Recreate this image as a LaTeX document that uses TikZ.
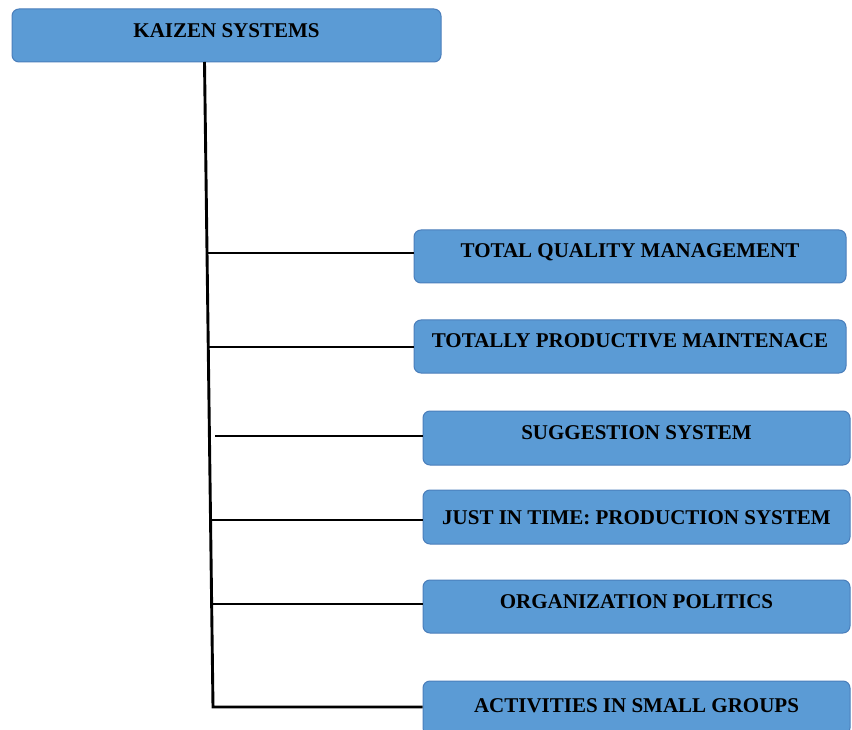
\documentclass[tikz,border=0pt]{standalone}
\usepackage{fontspec}
\setmainfont{Liberation Serif}
\usetikzlibrary{calc}

\definecolor{boxfill}{HTML}{5B9BD5}
\definecolor{boxedge}{HTML}{4A7EBB}

\tikzset{
  sysbox/.style={draw=boxedge, fill=boxfill, line width=1pt, rounded corners=7pt,
    inner sep=0pt, text height=14pt, text depth=11pt,
    font=\fontsize{21}{24}\selectfont\bfseries},
  tree/.style={line width=2.9pt, black}
}

\begin{document}
\begin{tikzpicture}[x=1pt,y=-1pt]

  \useasboundingbox (0,0) rectangle (852,730);

  \node (kaizen) at (226.5,35.5) [sysbox, minimum width=429pt, minimum height=53pt, text depth=9pt] {KAIZEN SYSTEMS};

  \node (tqm) at (630,256.5) [sysbox, minimum width=432pt, minimum height=53pt] {TOTAL QUALITY MANAGEMENT};
  \node (tpm) at (630,346.5) [sysbox, minimum width=432pt, minimum height=53pt, text depth=13pt] {TOTALLY PRODUCTIVE MAINTENACE};
  \node (sugg) at (636.5,438) [sysbox, minimum width=427pt, minimum height=54pt, text depth=12pt] {SUGGESTION SYSTEM};
  \node (jit) at (636.5,517) [sysbox, minimum width=427pt, minimum height=54pt, text depth=0pt] {JUST IN TIME: PRODUCTION SYSTEM};
  \node (org) at (636.5,606.5) [sysbox, minimum width=427pt, minimum height=53pt] {ORGANIZATION POLITICS};
  \node (act) at (636.5,708) [sysbox, minimum width=427pt, minimum height=54pt, text depth=6pt] {ACTIVITIES IN SMALL GROUPS};

  \coordinate (trunktop) at (204.5,62);
  \coordinate (trunkbot) at (213,707);
  \coordinate (b1) at (206,253);
  \coordinate (b2) at (207,347);
  \coordinate (b3) at (215,436);
  \coordinate (b4) at (212,520);
  \coordinate (b5) at (212.5,604);

  \draw [tree] (trunktop) -- (trunkbot) -- (trunkbot -| act.west);
  \draw [tree] (b1) -- (b1 -| tqm.west);
  \draw [tree] (b2) -- (b2 -| tpm.west);
  \draw [tree] (b3) -- (b3 -| sugg.west);
  \draw [tree] (b4) -- (b4 -| jit.west);
  \draw [tree] (b5) -- (b5 -| org.west);

\end{tikzpicture}
\end{document}
